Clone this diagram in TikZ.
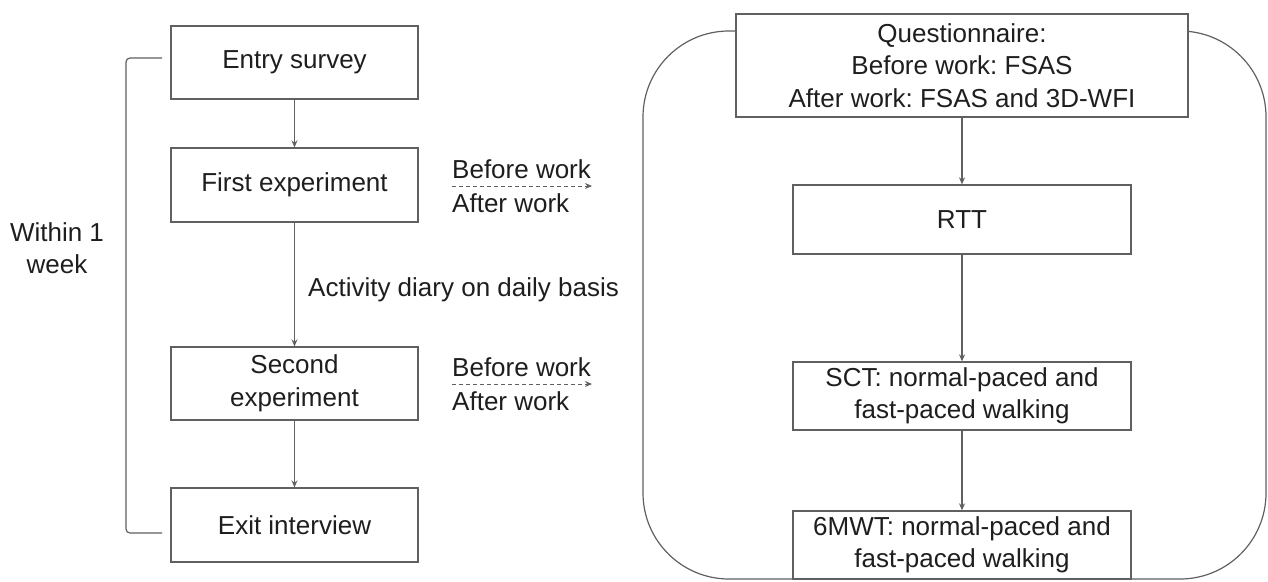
\documentclass[tikz,border=0pt]{standalone}
\usepackage{fontspec}
\setmainfont{Liberation Sans}
\usetikzlibrary{arrows.meta}
\frenchspacing
\definecolor{linegray}{HTML}{606060}
\definecolor{txt}{HTML}{1E1E1E}
\tikzset{
  box/.style={draw=linegray, line width=1.3pt, fill=white, align=center, inner sep=0pt, text=txt},
  lbox/.style={box, minimum width=247pt},
  rbox/.style={box, minimum width=338pt},
  conn/.style={draw=linegray, line width=1.2pt, -{Stealth[length=7pt,width=6pt]}},
  dconn/.style={draw=linegray, line width=1pt, dash pattern=on 4pt off 3pt, -{Stealth[length=7pt,width=6pt]}},
  lbl/.style={text=txt, inner sep=0pt},
}
\begin{document}
\begin{tikzpicture}[x=1pt,y=-1pt,font=\fontsize{26}{32.5}\selectfont\frenchspacing]
\useasboundingbox (0,0) rectangle (1268,581);
% big rounded frame (behind)
\draw[linegray, line width=1.2pt, rounded corners=86pt] (643,31) rectangle (1266,579);
% left column
\node[lbox, minimum height=73pt] (entry) at (294.5,62.5) {Entry survey};
\node[lbox, minimum height=74pt] (first) at (294.5,185) {First experiment};
\node[lbox, minimum height=73pt] (second) at (294.5,383.5) {Second\\experiment};
\node[lbox, minimum height=74pt] (exit) at (294.5,525) {Exit interview};
\draw[conn] (entry) -- (first);
\draw[conn] (first) -- (second);
\draw[conn] (second) -- (exit);
\node[lbl, anchor=base west] (diary) at (308,296) {Activity diary on daily basis};
% bracket
\coordinate (bt) at (162,58);
\coordinate (bb) at (162,533);
\draw[linegray, line width=1.2pt, rounded corners=4pt] (bt) -- (126,58) -- (126,533) -- (bb);
\node[lbl, align=center] (within) at (57,248) {Within 1\\week};
% dashed arrows
\coordinate (d1s) at (452,186);
\coordinate (d1e) at (592,186);
\draw[dconn] (d1s) -- (d1e);
\node[lbl, anchor=base west] (bw1) at (452,178) {Before work};
\node[lbl, anchor=base west] (aw1) at (452,212) {After work};
\coordinate (d2s) at (452,384);
\coordinate (d2e) at (592,384);
\draw[dconn] (d2s) -- (d2e);
\node[lbl, anchor=base west] (bw2) at (452,376) {Before work};
\node[lbl, anchor=base west] (aw2) at (452,410) {After work};
% right column
\node[box, minimum width=452pt, minimum height=103pt] (quest) at (962,65.5) {Questionnaire:\\Before work: FSAS\\After work: FSAS and 3D-WFI};
\node[rbox, minimum height=69pt] (rtt) at (962,219.5) {RTT};
\node[rbox, minimum height=68pt] (sct) at (962,396) {SCT: normal-paced and\\fast-paced walking};
\node[rbox, minimum height=68pt] (mwt) at (962,545) {6MWT: normal-paced and\\fast-paced walking};
\draw[conn] (quest) -- (rtt);
\draw[conn] (rtt) -- (sct);
\draw[conn] (sct) -- (mwt);
\end{tikzpicture}
\end{document}
